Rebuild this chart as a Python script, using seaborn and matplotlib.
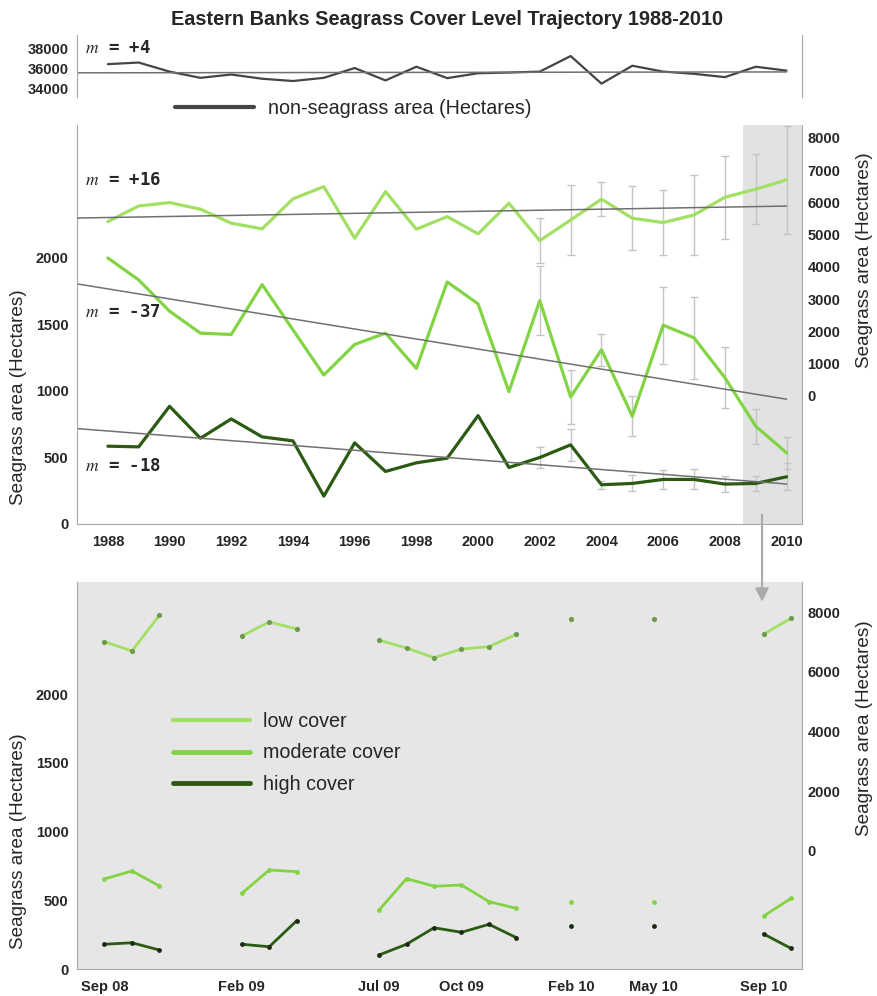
import numpy as np
import pandas as pd
import matplotlib.pyplot as plt
import seaborn as sns
from matplotlib.lines import Line2D
from matplotlib.patches import FancyArrowPatch

# yearly values 1988-2010
years = list(range(1988, 2011))
non_seagrass = [36390, 36550, 35640, 35020, 35350, 34930, 34700, 35020, 36000, 34760, 36130, 34990,
                35480, 35550, 35640, 37200, 34440, 36230, 35640, 35420, 35090, 36130, 35740]
low_cover = [5405, 5890, 5995, 5790, 5355, 5180, 6110, 6490, 4890, 6335, 5170, 5560,
             5025, 5975, 4815, 5455, 6100, 5510, 5375, 5610, 6160, 6410, 6700]
moderate_cover = [2000, 1835, 1600, 1435, 1425, 1800, 1460, 1120, 1350, 1435, 1170, 1820,
                  1655, 995, 1680, 955, 1310, 810, 1495, 1400, 1100, 735, 535]
high_cover = [585, 580, 885, 645, 790, 655, 625, 210, 610, 395, 460, 495,
              815, 425, 500, 595, 295, 305, 335, 335, 300, 305, 355]

# error bars 2002-2010
err_years = list(range(2002, 2011))
low_err = [700, 1100, 530, 1000, 1020, 1240, 1290, 1085, 1675]
moderate_err = [260, 200, 120, 150, 290, 310, 230, 130, 120]
high_err = [80, 120, 30, 60, 70, 75, 60, 55, 100]

slope_labels = ['+4', '+16', '-37', '-18']

# monthly survey values Sep 08 - Oct 10 (month index 0 = Sep 08)
month_idx = [0, 1, 2, 5, 6, 7, 10, 11, 12, 13, 14, 15, 17, 20, 24, 25]
month_seg = [0, 0, 0, 1, 1, 1, 2, 2, 2, 2, 2, 2, 3, 4, 5, 5]
month_low = [7013, 6701, 7899, 7205, 7675, 7440, 7060, 6802, 6477, 6768, 6846, 7262, 7765, 7765, 7262, 7799]
month_mod = [655, 713, 604, 550, 720, 708, 429, 657, 602, 611, 490, 441, 485, 485, 385, 514]
month_high = [180, 191, 138, 180, 162, 351, 102, 180, 300, 267, 325, 228, 315, 315, 255, 150]
month_tick_idx = [0, 5, 10, 13, 17, 20, 24]
month_tick_labels = ['Sep 08', 'Feb 09', 'Jul 09', 'Oct 09', 'Feb 10', 'May 10', 'Sep 10']

df = pd.DataFrame({'year': years, 'non': non_seagrass, 'low': low_cover,
                   'moderate': moderate_cover, 'high': high_cover})
dfm = pd.DataFrame({'month': month_idx, 'seg': month_seg, 'low': month_low,
                    'moderate': month_mod, 'high': month_high})

sns.set_style("white")
plt.rcParams['font.family'] = ['Liberation Sans', 'DejaVu Sans']
plt.rcParams['mathtext.fontset'] = 'stix'

c_low = '#a2e063'
c_mod = '#82d444'
c_high = '#2b5a12'
c_trend = '#707070'
c_spine = '#a8a8a8'
c_err = '#c4c4c4'
tick_fs = 10.5
lab_fs = 13.6
leg_fs = 14.2

fig = plt.figure(figsize=(8.77, 9.96), dpi=100)
ax_top = fig.add_axes([0.0878, 0.9026, 0.8267, 0.0622])
ax_mid = fig.add_axes([0.0878, 0.4739, 0.8267, 0.4006])
ax_mid_r = ax_mid.twinx()
ax_bot = fig.add_axes([0.0878, 0.0271, 0.8267, 0.3886])
ax_bot_r = ax_bot.twinx()

fig.text(0.51, 0.980, 'Eastern Banks Seagrass Cover Level Trajectory 1988-2010',
         ha='center', va='center', fontsize=14.3, fontweight='bold')

trend_x = np.array([1987, 2010])


def trend(ax, col):
    coef = np.polyfit(df['year'], df[col], 1)
    sns.lineplot(x=trend_x, y=np.polyval(coef, trend_x), ax=ax, color=c_trend, lw=1.1)


def mtext(ax, y, s):
    ax.text(0.011, y, r'$\mathit{m}$' + ' = ' + s, transform=ax.transAxes, ha='left', va='center',
            fontsize=12.5, fontweight='bold', family='DejaVu Sans Mono')


# ---- top panel: non-seagrass area
sns.lineplot(data=df, x='year', y='non', ax=ax_top, color='#454545', lw=1.6,
             label='non-seagrass area (Hectares)')
trend(ax_top, 'non')
ax_top.set_xlim(1987, 2010.5)
ax_top.set_ylim(33100, 39300)
ax_top.set_yticks([34000, 36000, 38000])
ax_top.set_xticks([])
ax_top.set_xlabel('')
ax_top.set_ylabel('')
for s in ['top', 'bottom']:
    ax_top.spines[s].set_visible(False)
for s in ['left', 'right']:
    ax_top.spines[s].set_color(c_spine)
ax_top.tick_params(axis='y', length=0, pad=6, labelsize=tick_fs)
for t in ax_top.get_yticklabels():
    t.set_fontweight('bold')
mtext(ax_top, 0.79, slope_labels[0])
ax_top.legend(loc='center left', bbox_to_anchor=(0.135, -0.19), frameon=False, fontsize=leg_fs,
              handlelength=4.0, handletextpad=0.7, borderpad=0, borderaxespad=0)
for h in ax_top.get_legend().get_lines():
    h.set_linewidth(3)

# ---- middle panel: yearly trajectories
ax_mid.axvspan(2008.58, 2010.5, color='#e2e2e2', lw=0, zorder=0)
ax_mid.errorbar(err_years, moderate_cover[-9:], yerr=moderate_err, fmt='none', ecolor=c_err,
                elinewidth=1, capsize=3)
ax_mid.errorbar(err_years, high_cover[-9:], yerr=high_err, fmt='none', ecolor=c_err,
                elinewidth=1, capsize=3)
ax_mid_r.errorbar(err_years, low_cover[-9:], yerr=low_err, fmt='none', ecolor=c_err,
                  elinewidth=1, capsize=3)
sns.lineplot(data=df, x='year', y='moderate', ax=ax_mid, color=c_mod, lw=2.3)
sns.lineplot(data=df, x='year', y='high', ax=ax_mid, color=c_high, lw=2.3)
trend(ax_mid, 'moderate')
trend(ax_mid, 'high')
sns.lineplot(data=df, x='year', y='low', ax=ax_mid_r, color=c_low, lw=2.3)
trend(ax_mid_r, 'low')

ax_mid.set_xlim(1987, 2010.5)
ax_mid.set_ylim(0, 3000)
ax_mid.set_yticks([0, 500, 1000, 1500, 2000])
ax_mid_r.set_ylim(-3970, 8400)
ax_mid_r.set_yticks(range(0, 8001, 1000))
ax_mid.set_xticks(range(1988, 2011, 2))
ax_mid.set_xticks(range(1988, 2011), minor=True)
ax_mid.set_xlabel('')
ax_mid.set_ylabel('Seagrass area (Hectares)', fontsize=lab_fs)
ax_mid.yaxis.set_label_coords(-0.069, 0.318)
ax_mid_r.set_ylabel('Seagrass area (Hectares)', fontsize=lab_fs)
ax_mid_r.yaxis.set_label_coords(1.075, 0.662)

mtext(ax_mid, 0.862, slope_labels[1])
mtext(ax_mid, 0.531, slope_labels[2])
mtext(ax_mid, 0.145, slope_labels[3])

# ---- bottom panel: monthly surveys
ax_bot.set_facecolor('#e6e6e6')
sns.lineplot(data=dfm, x='month', y='moderate', units='seg', estimator=None, ax=ax_bot,
             color=c_mod, lw=2)
sns.lineplot(data=dfm, x='month', y='high', units='seg', estimator=None, ax=ax_bot,
             color=c_high, lw=2)
sns.scatterplot(data=dfm, x='month', y='moderate', ax=ax_bot, color=c_mod, s=12, lw=0, zorder=3)
sns.scatterplot(data=dfm, x='month', y='high', ax=ax_bot, color='#1c2a14', s=12, lw=0, zorder=3)
sns.lineplot(data=dfm, x='month', y='low', units='seg', estimator=None, ax=ax_bot_r,
             color=c_low, lw=2)
sns.scatterplot(data=dfm, x='month', y='low', ax=ax_bot_r, color='#6e9a50', s=14, lw=0, zorder=3)

ax_bot.set_xlim(-1, 25.4)
ax_bot.set_ylim(0, 2815)
ax_bot.set_yticks([0, 500, 1000, 1500, 2000])
ax_bot_r.set_ylim(-3970, 9017)
ax_bot_r.set_yticks(range(0, 8001, 2000))
ax_bot.set_xticks(month_tick_idx)
ax_bot.set_xticklabels(month_tick_labels)
ax_bot.set_xticks(range(0, 26), minor=True)
ax_bot.set_xlabel('')
ax_bot.set_ylabel('Seagrass area (Hectares)', fontsize=lab_fs)
ax_bot.yaxis.set_label_coords(-0.069, 0.331)
ax_bot_r.set_ylabel('Seagrass area (Hectares)', fontsize=lab_fs)
ax_bot_r.yaxis.set_label_coords(1.075, 0.623)

handles = [Line2D([], [], color=c_low, lw=3), Line2D([], [], color=c_mod, lw=3.5),
           Line2D([], [], color=c_high, lw=3.5)]
ax_bot_r.legend(handles, ['low cover', 'moderate cover', 'high cover'], loc='upper left',
                bbox_to_anchor=(0.132, 0.665), frameon=False, fontsize=leg_fs, handlelength=3.9,
                handletextpad=0.7, labelspacing=0.65, borderpad=0, borderaxespad=0)

# shared styling of the two lower panels
for ax, ax_r in [(ax_mid, ax_mid_r), (ax_bot, ax_bot_r)]:
    ax.spines['top'].set_visible(False)
    ax_r.spines['top'].set_visible(False)
    for s in ['left', 'bottom']:
        ax.spines[s].set_color(c_spine)
        ax_r.spines[s].set_visible(False)
    ax.spines['right'].set_visible(False)
    ax_r.spines['right'].set_color(c_spine)
    ax.tick_params(axis='y', length=0, pad=6, labelsize=tick_fs)
    ax_r.tick_params(axis='y', length=0, pad=4, labelsize=tick_fs)
    ax.tick_params(axis='x', which='both', length=4, color=c_spine, pad=4, labelsize=tick_fs)
    for t in ax.get_yticklabels() + ax_r.get_yticklabels() + ax.get_xticklabels():
        t.set_fontweight('bold')

arrow = FancyArrowPatch((0.8689, 0.486), (0.8689, 0.393), transform=fig.transFigure,
                        arrowstyle='-|>', mutation_scale=20, color='#aaaaaa', lw=1.5)
fig.add_artist(arrow)

fig.savefig('out.png', dpi=100)
